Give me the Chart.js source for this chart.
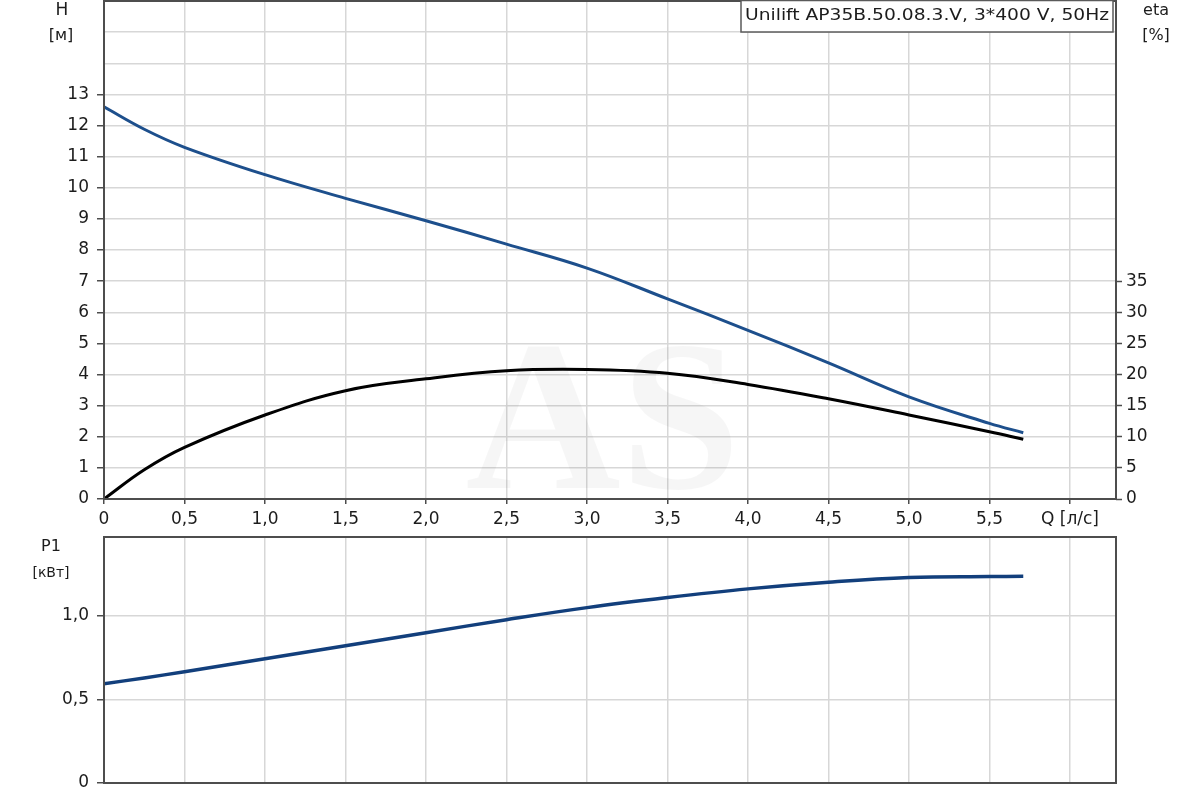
<!DOCTYPE html>
<html>
<head>
<meta charset="utf-8">
<script src="https://cdn.jsdelivr.net/npm/chart.js@4.4.0/dist/chart.umd.min.js"></script>
<style>
  html, body { margin: 0; padding: 0; background: #fff; }
  #wrap { position: relative; width: 1200px; height: 800px; }
  #top { position: absolute; left: 0; top: 0; width: 1200px; height: 530px; }
  #bottom { position: absolute; left: 0; top: 530px; width: 1200px; height: 270px; }
</style>
</head>
<body>
<div id="wrap">
  <div id="top"><canvas id="pumpChart"></canvas></div>
  <div id="bottom"><canvas id="powerChart"></canvas></div>
</div>
<script>
// values
const flow  = [0, 0.25, 0.5, 1.0, 1.5, 2.0, 2.5, 3.0, 3.5, 4.0, 4.5, 5.0, 5.5, 5.71];   // Q [l/s]
const head  = [12.6, 11.88, 11.3, 10.42, 9.66, 8.94, 8.19, 7.42, 6.43, 5.42, 4.37, 3.28, 2.43, 2.13]; // H [m]
const eta   = [0, 4.7, 8.3, 13.5, 17.4, 19.3, 20.6, 20.8, 20.2, 18.4, 16.1, 13.5, 10.8, 9.6]; // eta [%]
const power = [0.593, 0.628, 0.665, 0.742, 0.82, 0.898, 0.976, 1.048, 1.108, 1.16, 1.2, 1.228, 1.234, 1.235]; // P1 [kW]

const pumpTitle = 'Unilift AP35B.50.08.3.V, 3*400 V, 50Hz';
const qMax = 6.286;
const hMax = 16, hLabelMax = 13;
const etaMax = 80, etaLabelMax = 35;
const pMax = 1.47;

const fontFamily = '"DejaVu Sans", "Liberation Sans", Arial, sans-serif';
const gridColor = '#d7d7d7';
const axisColor = '#4d4d4d';
const textColor = '#1c1c1c';
const headColor = '#1d4f8c';
const powerColor = '#123f7c';

const toPoints = ys => flow.map((q, i) => ({ x: q, y: ys[i] }));
const comma = v => Math.abs(v) < 1e-9 ? '0' : v.toFixed(1).replace('.', ',');

// force axis sizes so both panels share the same plot box
const fixY = w => scale => { scale.width = w; scale.paddingTop = 0; scale.paddingBottom = 0; };
const fixX = h => scale => { scale.height = h; scale.paddingLeft = 0; scale.paddingRight = 0; };

const framePlugin = {
  id: 'frame',
  afterDraw(chart) {
    const { ctx, chartArea: a } = chart;
    ctx.save();
    ctx.strokeStyle = axisColor;
    ctx.lineWidth = 2;
    ctx.strokeRect(a.left, a.top, a.right - a.left, a.bottom - a.top);
    ctx.restore();
  }
};

const watermarkPlugin = {
  id: 'watermark',
  beforeDatasetsDraw(chart) {
    const { ctx } = chart;
    ctx.save();
    ctx.fillStyle = 'rgba(0,0,0,0.035)';
    ctx.font = 'bold 215px "Liberation Serif", "DejaVu Serif", serif';
    ctx.textAlign = 'center';
    ctx.textBaseline = 'alphabetic';
    ctx.fillText('AS', 603, 488);
    ctx.restore();
  }
};

function unitLabels(items) {
  return {
    id: 'unitLabels',
    afterDraw(chart) {
      const { ctx, chartArea: a } = chart;
      ctx.save();
      ctx.fillStyle = textColor;
      ctx.textAlign = 'center';
      ctx.textBaseline = 'middle';
      items.forEach(it => {
        ctx.font = it.size + 'px ' + fontFamily;
        const x = it.side === 'left' ? a.left + it.dx : a.right + it.dx;
        ctx.fillText(it.text, x, a.top + it.dy);
      });
      ctx.restore();
    }
  };
}

const titleBox = {
  id: 'titleBox',
  afterDraw(chart) {
    const { ctx, chartArea: a } = chart;
    ctx.save();
    ctx.font = '16px ' + fontFamily;
    const textW = 364;
    const sx = textW / ctx.measureText(pumpTitle).width;
    const w = textW + 8;
    const right = a.right - 3;
    ctx.fillStyle = '#fff';
    ctx.fillRect(right - w, 0, w, 32);
    ctx.strokeStyle = '#5a5a5a';
    ctx.lineWidth = 1.5;
    ctx.strokeRect(right - w, 0.5, w, 31.5);
    ctx.fillStyle = textColor;
    ctx.textBaseline = 'middle';
    ctx.textAlign = 'left';
    ctx.translate(right - w + 4, 16);
    ctx.scale(sx, 1);
    ctx.fillText(pumpTitle, 0, 0);
    ctx.restore();
  }
};

const tickFont = { family: fontFamily, size: 17 };

new Chart(document.getElementById('pumpChart'), {
  type: 'scatter',
  data: {
    datasets: [{
      label: 'H',
      data: toPoints(head),
      yAxisID: 'y',
      showLine: true,
      borderColor: headColor,
      borderWidth: 3,
      pointRadius: 0,
      tension: 0.4
    }, {
      label: 'eta',
      data: toPoints(eta),
      yAxisID: 'y1',
      showLine: true,
      borderColor: '#000',
      borderWidth: 3,
      pointRadius: 0,
      tension: 0.4
    }]
  },
  options: {
    responsive: true,
    maintainAspectRatio: false,
    animation: false,
    layout: { padding: { top: 1, left: 0, right: 0, bottom: 0 } },
    plugins: { legend: { display: false }, tooltip: { enabled: false } },
    scales: {
      x: {
        type: 'linear',
        min: 0,
        max: qMax,
        afterFit: fixX(31),
        border: { display: false },
        grid: { color: gridColor, lineWidth: 1.5, tickLength: 5, tickColor: axisColor, tickWidth: 1.5 },
        ticks: {
          stepSize: 0.5,
          includeBounds: false,
          maxRotation: 0,
          autoSkip: false,
          padding: 5,
          color: textColor,
          font: tickFont,
          callback: v => Math.abs(v - 6) < 1e-6 ? 'Q [л/с]' : comma(v)
        }
      },
      y: {
        position: 'left',
        min: 0,
        max: hMax,
        afterFit: fixY(104),
        border: { display: false },
        grid: {
          color: gridColor,
          lineWidth: 1.5,
          tickLength: 7,
          tickWidth: 1.5,
          tickColor: c => c.tick && c.tick.value <= hLabelMax ? axisColor : 'rgba(0,0,0,0)'
        },
        ticks: {
          stepSize: 1,
          includeBounds: false,
          padding: 8,
          color: textColor,
          font: tickFont,
          callback: v => v <= hLabelMax ? String(v) : ''
        }
      },
      y1: {
        position: 'right',
        min: 0,
        max: etaMax,
        afterFit: fixY(84),
        border: { display: false },
        grid: {
          drawOnChartArea: false,
          tickLength: 6,
          tickWidth: 1.5,
          tickColor: c => c.tick && c.tick.value <= etaLabelMax ? axisColor : 'rgba(0,0,0,0)'
        },
        ticks: {
          stepSize: 5,
          includeBounds: false,
          padding: 4,
          color: textColor,
          font: tickFont,
          callback: v => v <= etaLabelMax ? String(v) : ''
        }
      }
    }
  },
  plugins: [watermarkPlugin, framePlugin, titleBox, unitLabels([
    { text: 'H', side: 'left', dx: -42, dy: 10, size: 17 },
    { text: '[м]', side: 'left', dx: -43, dy: 35, size: 16 },
    { text: 'eta', side: 'right', dx: 40, dy: 10, size: 16 },
    { text: '[%]', side: 'right', dx: 40, dy: 35, size: 16 }
  ])]
});

new Chart(document.getElementById('powerChart'), {
  type: 'scatter',
  data: {
    datasets: [{
      label: 'P1',
      data: toPoints(power),
      showLine: true,
      borderColor: powerColor,
      borderWidth: 3.5,
      pointRadius: 0,
      tension: 0.4
    }]
  },
  options: {
    responsive: true,
    maintainAspectRatio: false,
    animation: false,
    layout: { padding: { top: 7, left: 0, right: 84, bottom: 0 } },
    plugins: { legend: { display: false }, tooltip: { enabled: false } },
    scales: {
      x: {
        type: 'linear',
        min: 0,
        max: qMax,
        afterFit: fixX(17),
        border: { display: false },
        grid: { color: gridColor, lineWidth: 1.5, drawTicks: false },
        ticks: { stepSize: 0.5, includeBounds: false, display: false }
      },
      y: {
        min: 0,
        max: pMax,
        afterFit: fixY(104),
        border: { display: false },
        grid: { color: gridColor, lineWidth: 1.5, tickLength: 7, tickWidth: 1.5, tickColor: axisColor },
        ticks: {
          stepSize: 0.5,
          includeBounds: false,
          padding: 8,
          color: textColor,
          font: tickFont,
          callback: v => comma(v)
        }
      }
    }
  },
  plugins: [framePlugin, unitLabels([
    { text: 'P1', side: 'left', dx: -53, dy: 10, size: 16 },
    { text: '[кВт]', side: 'left', dx: -53, dy: 36, size: 14 }
  ])]
});
</script>
</body>
</html>
